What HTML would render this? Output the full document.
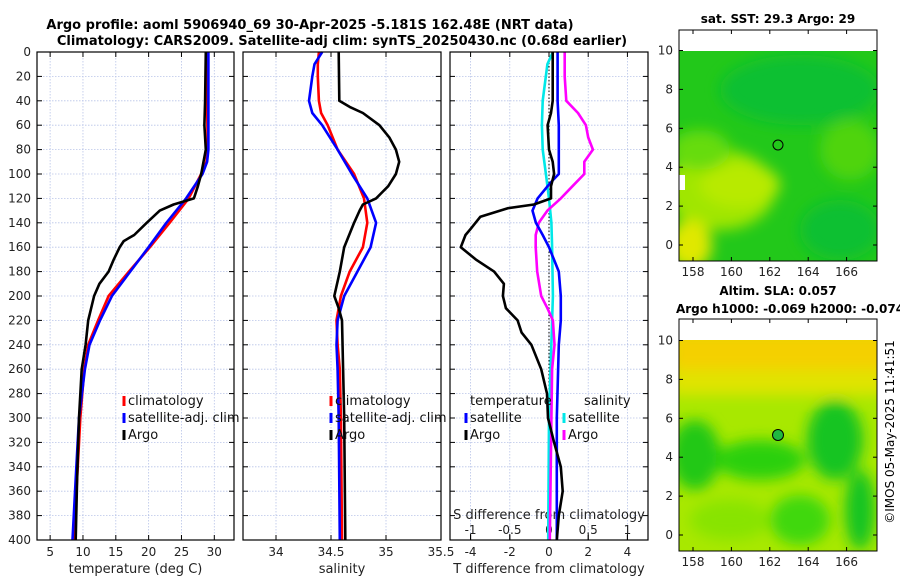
<!DOCTYPE html>
<html><head><meta charset="utf-8"><style>
body{margin:0;background:#fff;}
svg{display:block;font-family:"DejaVu Sans","Liberation Sans",sans-serif;}
</style></head><body>
<svg id="fig" width="900" height="580" viewBox="0 0 900 580">
<defs>
<filter id="blur6" x="-50%" y="-50%" width="200%" height="200%"><feGaussianBlur stdDeviation="7"/></filter>
<clipPath id="clipTop"><rect x="679" y="51" width="198" height="210"/></clipPath>
<clipPath id="clipBot"><rect x="679" y="340" width="198" height="211"/></clipPath>
</defs>
<text x="310" y="29" text-anchor="middle" font-size="13" font-weight="bold">Argo profile: aoml 5906940_69 30-Apr-2025 -5.181S 162.48E (NRT data)</text>
<text x="342" y="45" text-anchor="middle" font-size="13" font-weight="bold">Climatology: CARS2009. Satellite-adj clim: synTS_20250430.nc (0.68d earlier)</text>

<g>
<text x="778" y="23" text-anchor="middle" font-size="12" font-weight="bold">sat. SST: 29.3 Argo: 29</text>
<rect x="679" y="51" width="198" height="210" fill="#22c81a"/>
<g clip-path="url(#clipTop)">
<g filter="url(#blur6)">
<ellipse cx="720" cy="190" rx="55" ry="40" fill="#a0e600"/>
<ellipse cx="740" cy="185" rx="40" ry="22" fill="#b8ea00"/>
<ellipse cx="690" cy="245" rx="22" ry="25" fill="#e0e800"/>
<ellipse cx="700" cy="150" rx="30" ry="20" fill="#66dc10"/>
<ellipse cx="850" cy="150" rx="30" ry="30" fill="#50d410"/>
<ellipse cx="800" cy="90" rx="80" ry="35" fill="#10c030"/>
<ellipse cx="840" cy="230" rx="40" ry="30" fill="#10c030"/>
</g>
</g>
<rect x="679" y="175" width="6" height="15" fill="#fff"/>
<rect x="679" y="30" width="198" height="21" fill="#fff"/>
<circle cx="778" cy="145" r="5" fill="none" stroke="#000" stroke-width="1"/>
<rect x="679" y="30" width="198" height="231" fill="none" stroke="#000" stroke-width="1"/>
</g>
<g>
<text x="778" y="295" text-anchor="middle" font-size="12" font-weight="bold">Altim. SLA: 0.057</text>
<text x="790" y="313" text-anchor="middle" font-size="12" font-weight="bold">Argo h1000: -0.069 h2000: -0.074</text>
<rect x="679" y="340" width="198" height="211" fill="#a8e800"/>
<g clip-path="url(#clipBot)">
<g filter="url(#blur6)">
<rect x="670" y="330" width="220" height="50" fill="#f4d000"/>
<rect x="670" y="370" width="220" height="25" fill="#e0e400"/>
<ellipse cx="695" cy="455" rx="25" ry="35" fill="#22c818"/>
<ellipse cx="760" cy="460" rx="45" ry="20" fill="#2ad010"/>
<ellipse cx="835" cy="440" rx="28" ry="40" fill="#18c420"/>
<ellipse cx="860" cy="510" rx="15" ry="40" fill="#18c420"/>
<ellipse cx="730" cy="520" rx="40" ry="20" fill="#88e400"/>
<ellipse cx="800" cy="520" rx="30" ry="25" fill="#40d808"/>
</g>
</g>
<rect x="679" y="319" width="198" height="21" fill="#fff"/>
<circle cx="778" cy="435" r="5.5" fill="#20b840" stroke="#000" stroke-width="1"/>
<rect x="679" y="319" width="198" height="232" fill="none" stroke="#000" stroke-width="1"/>
</g>
<text transform="translate(894,432) rotate(-90)" text-anchor="middle" font-size="12">©IMOS 05-May-2025 11:41:51</text>
<g id="plots"></g>
</svg>
<script>
const depthT = [0,40,60,80,100,110,120,125,130,140,150,155,160,170,180,190,200,220,240,260,300,350,400];
const argoTemp = [28.7,28.6,28.5,28.7,28.0,27.5,26.9,23.8,21.7,19.7,17.8,16.2,15.6,14.7,13.9,12.5,11.7,10.8,10.4,9.8,9.4,9.1,8.9];
const depthC = [0,40,80,90,100,120,140,160,180,200,220,240,260,300,350,400];
const climTemp = [28.8,28.9,29.0,28.8,28.0,26.1,23.2,20.2,17.0,13.9,12.3,10.8,10.2,9.6,9.1,8.6];
const satTemp = [29.1,29.1,29.1,28.9,28.2,25.7,22.7,20.0,17.2,14.4,12.6,11.0,10.3,9.4,8.9,8.4];
const depthS = [0,40,45,50,60,70,80,90,100,110,120,125,130,140,160,180,200,210,220,260,300,400];
const argoSal = [34.57,34.575,34.67,34.79,34.94,35.03,35.09,35.12,35.09,35.02,34.91,34.79,34.76,34.71,34.62,34.58,34.53,34.57,34.6,34.61,34.62,34.63];
const depthSC = [0,10,20,40,50,60,80,100,120,140,160,180,200,220,240,260,300,400];
const climSal = [34.39,34.38,34.38,34.39,34.41,34.47,34.56,34.71,34.8,34.83,34.79,34.67,34.59,34.55,34.56,34.58,34.59,34.6];
const satSal = [34.42,34.35,34.33,34.3,34.33,34.42,34.56,34.69,34.83,34.91,34.86,34.74,34.62,34.56,34.55,34.56,34.57,34.58];
const depthD = [0,40,50,60,80,90,100,110,120,125,128,135,145,150,160,170,180,190,200,210,220,230,240,260,280,300,320,340,360,380,400];
const argoTdiff = [0.19,0.19,0.1,-0.07,0.0,0.19,0.26,0.1,0.1,-0.77,-2.1,-3.5,-4.0,-4.26,-4.5,-3.74,-2.8,-2.3,-2.35,-2.2,-1.6,-1.4,-0.9,-0.4,-0.1,-0.05,0.26,0.6,0.7,0.5,0.4];
const depthD2 = [0,40,60,80,100,105,110,120,130,140,150,160,170,180,200,220,240,300,400];
const satTdiff = [0.44,0.44,0.5,0.5,0.5,0.2,-0.07,-0.58,-0.84,-0.67,-0.32,0.0,0.25,0.5,0.6,0.6,0.5,0.4,0.4];
const depthSD = [0,10,40,60,80,100,120,140,160,200,220,300,400];
const satSdiff = [0.05,-0.02,-0.08,-0.09,-0.08,-0.04,0.0,0.03,0.04,0.05,0.04,0.0,-0.01];
const depthSD2 = [0,20,40,50,60,70,80,90,100,110,120,130,140,150,160,180,200,210,220,240,260,300,400];
const argoSdiff = [0.2,0.2,0.22,0.37,0.47,0.5,0.56,0.45,0.45,0.3,0.15,-0.02,-0.13,-0.17,-0.17,-0.15,-0.1,-0.02,0.05,0.07,0.04,0.03,0.01];
const yTicks = [0,20,40,60,80,100,120,140,160,180,200,220,240,260,280,300,320,340,360,380,400];
const tTicks = [5,10,15,20,25,30];
const sTicks = [34,34.5,35,35.5];
const dTTicks = [-4,-2,0,2,4];
const dSTicks = [-1,-0.5,0,0.5,1];

const NS = "http://www.w3.org/2000/svg";
const root = document.getElementById('plots');
const Y0 = 52, Y1 = 540;
const yS = d => Y0 + (Y1 - Y0) * d / 400;
function mk(tag, attrs, parent){const e=document.createElementNS(NS,tag);for(const k in attrs)e.setAttribute(k,attrs[k]);(parent||root).appendChild(e);return e;}
function axis(x0,x1,dmin,dmax){return v => x0 + (x1-x0)*(v-dmin)/(dmax-dmin);}
const panels = [
 {x0:37,x1:234,f:axis(37,234,3,33),ticks:tTicks,lab:'temperature (deg C)',name:'temperature-panel'},
 {x0:243,x1:441,f:axis(243,441,33.7,35.5),ticks:sTicks,lab:'salinity',name:'salinity-panel'},
 {x0:450,x1:648,f:axis(450,648,-5.05,5.05),ticks:dTTicks,lab:'T difference from climatology',name:'difference-panel'}
];
const dSx = axis(450,648,-1.2625,1.2625);

panels.forEach((p,i)=>{
  const g = mk('g',{});
  
  
  p.g = g;
  yTicks.forEach(d=>{
    const l = mk('line',{x1:p.x0,x2:p.x1,y1:yS(d),y2:yS(d),stroke:'#b8c4e8','stroke-width':0.8,'stroke-dasharray':'1.5,1.5'},g);
    
    
    mk('line',{x1:p.x0,x2:p.x0+5,y1:yS(d),y2:yS(d),stroke:'#000'},g);
    mk('line',{x1:p.x1,x2:p.x1-5,y1:yS(d),y2:yS(d),stroke:'#000'},g);
  });
  p.ticks.forEach(t=>{
    const x = p.f(t);
    mk('line',{x1:x,x2:x,y1:Y0,y2:Y1,stroke:'#b8c4e8','stroke-width':0.8,'stroke-dasharray':'1.5,1.5'},g);
    mk('line',{x1:x,x2:x,y1:Y1,y2:Y1-5,stroke:'#000'},g);
    mk('line',{x1:x,x2:x,y1:Y0,y2:Y0+5,stroke:'#000'},g);
    const tx = mk('text',{x:x,y:556,'text-anchor':'middle','font-size':12,fill:'#222'},g);
    tx.textContent = t;
    
    
  });
  const xl = mk('text',{x:(p.x0+p.x1)/2,y:573,'text-anchor':'middle','font-size':13,fill:'#222'},g);
  xl.textContent = p.lab;
  
  
});
yTicks.forEach(d=>{
  const t = mk('text',{x:31,y:yS(d)+4,'text-anchor':'end','font-size':12,fill:'#222'});
  t.textContent = d;
  
  
});
const p3 = panels[2];
dSTicks.forEach(t=>{
  const x = dSx(t);
  mk('line',{x1:x,x2:x,y1:540,y2:534,stroke:'#000'},p3.g);
  const tx = mk('text',{x:x,y:534,'text-anchor':'middle','font-size':12,fill:'#222'},p3.g);
  tx.textContent = t;
  
  
});
const sl = mk('text',{x:549,y:519,'text-anchor':'middle','font-size':13,fill:'#222'},p3.g);
sl.textContent = 'S difference from climatology';


mk('line',{x1:p3.f(0),x2:p3.f(0),y1:Y0,y2:Y1,stroke:'#000','stroke-width':1,'stroke-dasharray':'1.5,2'},p3.g);

function series(g,fx,depths,vals,color,name){
  const pts = depths.map((d,i)=>fx(vals[i]).toFixed(1)+','+yS(d).toFixed(1)).join(' ');
  const pl = mk('polyline',{points:pts,fill:'none',stroke:color,'stroke-width':2.6,'stroke-linejoin':'round'},g);
  
  
}
series(panels[0].g,panels[0].f,depthC,climTemp,'#ff0000','clim-temperature-line');
series(panels[0].g,panels[0].f,depthC,satTemp,'#0000ff','sat-temperature-line');
series(panels[0].g,panels[0].f,depthT,argoTemp,'#000','argo-temperature-line');
series(panels[1].g,panels[1].f,depthSC,climSal,'#ff0000','clim-salinity-line');
series(panels[1].g,panels[1].f,depthSC,satSal,'#0000ff','sat-salinity-line');
series(panels[1].g,panels[1].f,depthS,argoSal,'#000','argo-salinity-line');
series(p3.g,dSx,depthSD,satSdiff,'#00e8e8','sat-s-diff-line');
series(p3.g,dSx,depthSD2,argoSdiff,'#ff00ff','argo-s-diff-line');
series(p3.g,p3.f,depthD2,satTdiff,'#0000ff','sat-t-diff-line');
series(p3.g,p3.f,depthD,argoTdiff,'#000','argo-t-diff-line');

panels.forEach(p=>mk('rect',{x:p.x0,y:Y0,width:p.x1-p.x0,height:Y1-Y0,fill:'none',stroke:'#000','stroke-width':1.2},p.g));

function legend(g,x,y,color,label){
  const e = mk('g',{},g);
  
  
  mk('line',{x1:x,x2:x,y1:y-9,y2:y+1,stroke:color,'stroke-width':3},e);
  const t = mk('text',{x:x+4,y:y,'font-size':13,fill:'#111'},e);
  t.textContent = label;
}
[[0,124],[1,331]].forEach(([i,x])=>{
  legend(panels[i].g,x,405,'#ff0000','climatology');
  legend(panels[i].g,x,422,'#0000ff','satellite-adj. clim');
  legend(panels[i].g,x,439,'#000','Argo');
});
const lt = mk('text',{x:470,y:405,'font-size':13,fill:'#111'},p3.g); lt.textContent='temperature';


const ls = mk('text',{x:584,y:405,'font-size':13,fill:'#111'},p3.g); ls.textContent='salinity';


legend(p3.g,466,422,'#0000ff','satellite');
legend(p3.g,466,439,'#000','Argo');
legend(p3.g,564,422,'#00e8e8','satellite');
legend(p3.g,564,439,'#ff00ff','Argo');

function mapAxes(top,bot,lat0y){
  const g = mk('g',{});
  
  
  [0,2,4,6,8,10].forEach(v=>{
    const y = lat0y - 19.45*v;
    mk('line',{x1:679,x2:683,y1:y,y2:y,stroke:'#000'},g);
    mk('line',{x1:877,x2:873,y1:y,y2:y,stroke:'#000'},g);
    const t = mk('text',{x:673,y:y+4,'text-anchor':'end','font-size':12,fill:'#222'},g); t.textContent=v;
  });
  [158,160,162,164,166].forEach(v=>{
    const x = 693 + 19.2*(v-158);
    mk('line',{x1:x,x2:x,y1:bot,y2:bot-4,stroke:'#000'},g);
    mk('line',{x1:x,x2:x,y1:top,y2:top+4,stroke:'#000'},g);
    const t = mk('text',{x:x,y:bot+15,'text-anchor':'middle','font-size':12,fill:'#222'},g); t.textContent=v;
  });
}
mapAxes(30,261,245);
mapAxes(319,551,535);
</script>
</body></html>
